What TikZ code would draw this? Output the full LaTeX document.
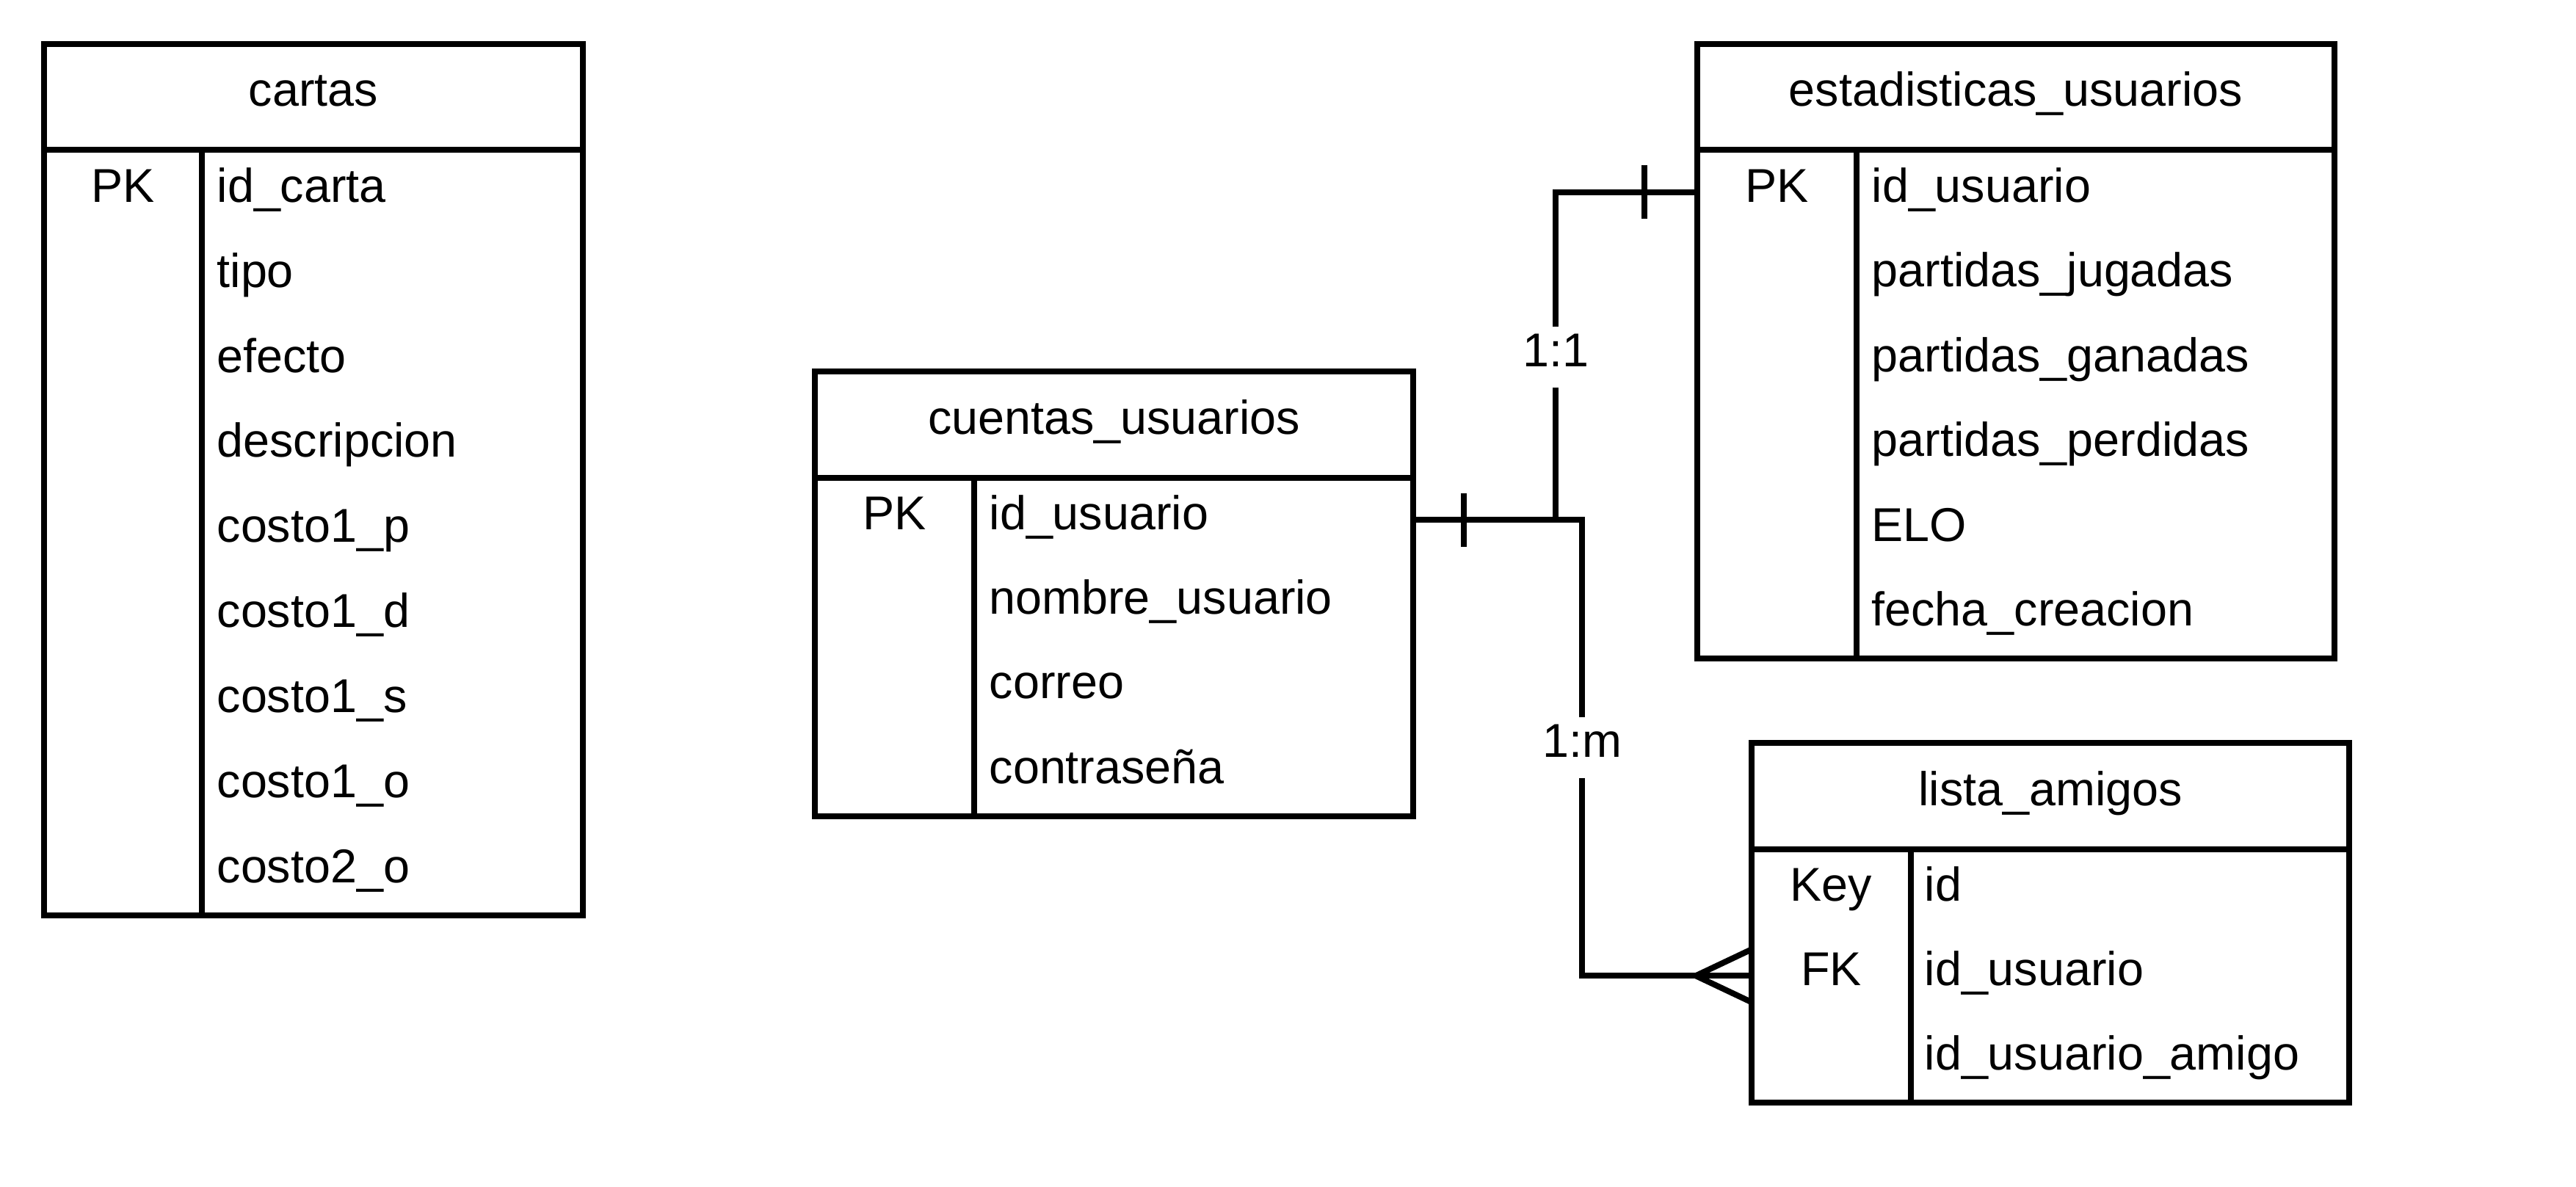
\documentclass[tikz,border=0pt]{standalone}
\usepackage{fontspec}
\setmainfont{Liberation Sans}
\usepackage{tikz}
\usetikzlibrary{positioning}
\newcommand{\erfont}{\fontsize{18.4pt}{22pt}\selectfont}

\begin{document}
\begin{tikzpicture}
[tablehead/.style={draw, rectangle, line width=2.27pt, minimum height=1.445cm, inner sep=0pt, outer sep=0pt, font=\erfont, text height=12pt, text depth=4.6pt},
tablebody/.style={draw, rectangle, line width=2.27pt, inner sep=0pt, outer sep=0pt},
keycell/.style={inner sep=0pt, font=\erfont, text height=12pt, text depth=4.6pt},
fieldcell/.style={keycell, anchor=west},
relation/.style={inner sep=0pt, font=\erfont, text height=15.3pt, text depth=7.7pt},
conn/.style={line width=2.27pt},]
    \useasboundingbox (0,0) rectangle (35.09,-16.17);

    % cartas
    \node (cartas) [tablehead, minimum width=7.34cm] at (4.27,-1.32) {cartas};
    \node (cartas-b) [tablebody, below=0pt of cartas, minimum width=7.34cm, minimum height=10.43cm] {};
    \draw[conn] ([xshift=2.15cm]cartas-b.north west) -- ([xshift=2.15cm]cartas-b.south west);
    \foreach \k/\f [count=\i] in {PK/id\_carta, /tipo, /efecto, /descripcion, /costo1\_p, /costo1\_d, /costo1\_s, /costo1\_o, /costo2\_o}
    {
        \node (cartas-k\i) [keycell] at ([xshift=1.075cm, yshift={-(\i-0.5)*1.159cm}]cartas-b.north west) {\k};
        \node (cartas-f\i) [fieldcell] at ([xshift=2.35cm, yshift={-(\i-0.5)*1.159cm}]cartas-b.north west) {\f};
    }

    % cuentas_usuarios
    \node (cuentas) [tablehead, minimum width=8.15cm] at (15.175,-5.785) {cuentas\_usuarios};
    \node (cuentas-b) [tablebody, below=0pt of cuentas, minimum width=8.15cm, minimum height=4.61cm] {};
    \draw[conn] ([xshift=2.17cm]cuentas-b.north west) -- ([xshift=2.17cm]cuentas-b.south west);
    \foreach \k/\f [count=\i] in {PK/id\_usuario, /nombre\_usuario, /correo, /contraseña}
    {
        \node (cuentas-k\i) [keycell] at ([xshift=1.085cm, yshift={-(\i-0.5)*1.1525cm}]cuentas-b.north west) {\k};
        \node (cuentas-f\i) [fieldcell] at ([xshift=2.37cm, yshift={-(\i-0.5)*1.1525cm}]cuentas-b.north west) {\f};
    }

    % estadisticas_usuarios
    \node (estad) [tablehead, minimum width=8.68cm] at (27.46,-1.32) {estadisticas\_usuarios};
    \node (estad-b) [tablebody, below=0pt of estad, minimum width=8.68cm, minimum height=6.93cm] {};
    \draw[conn] ([xshift=2.17cm]estad-b.north west) -- ([xshift=2.17cm]estad-b.south west);
    \foreach \k/\f [count=\i] in {PK/id\_usuario, /partidas\_jugadas, /partidas\_ganadas, /partidas\_perdidas, /ELO, /fecha\_creacion}
    {
        \node (estad-k\i) [keycell] at ([xshift=1.085cm, yshift={-(\i-0.5)*1.155cm}]estad-b.north west) {\k};
        \node (estad-f\i) [fieldcell] at ([xshift=2.37cm, yshift={-(\i-0.5)*1.155cm}]estad-b.north west) {\f};
    }

    % lista_amigos
    \node (lista) [tablehead, minimum width=8.14cm] at (27.93,-10.845) {lista\_amigos};
    \node (lista-b) [tablebody, below=0pt of lista, minimum width=8.14cm, minimum height=3.45cm] {};
    \draw[conn] ([xshift=2.17cm]lista-b.north west) -- ([xshift=2.17cm]lista-b.south west);
    \foreach \k/\f [count=\i] in {Key/id, FK/id\_usuario, /id\_usuario\_amigo}
    {
        \node (lista-k\i) [keycell] at ([xshift=1.085cm, yshift={-(\i-0.5)*1.15cm}]lista-b.north west) {\k};
        \node (lista-f\i) [fieldcell] at ([xshift=2.35cm, yshift={-(\i-0.5)*1.15cm}]lista-b.north west) {\f};
    }

    % relaciones
    \coordinate (cu-out) at (cuentas-b.east |- cuentas-f1);
    \coordinate (es-in) at (estad-b.west |- estad-f1);
    \coordinate (la-in) at (lista-b.west |- lista-f2);
    \node (rel11) [relation] at (21.19,-4.866) {1:1};
    \node (rel1m) [relation] at (21.55,-10.186) {1:m};
    \draw[conn] (cu-out) -| (rel11) |- (es-in);
    \draw[conn] (cu-out) -| (rel1m) |- (la-in);
    % marcas
    \draw[conn] ([xshift=0.69cm, yshift=0.365cm]cu-out) -- ([xshift=0.69cm, yshift=-0.365cm]cu-out);
    \draw[conn] ([xshift=-0.72cm, yshift=0.365cm]es-in) -- ([xshift=-0.72cm, yshift=-0.365cm]es-in);
    \draw[conn] ([yshift=0.36cm]la-in) -- ([xshift=-0.76cm]la-in) -- ([yshift=-0.36cm]la-in);
\end{tikzpicture}
\end{document}
